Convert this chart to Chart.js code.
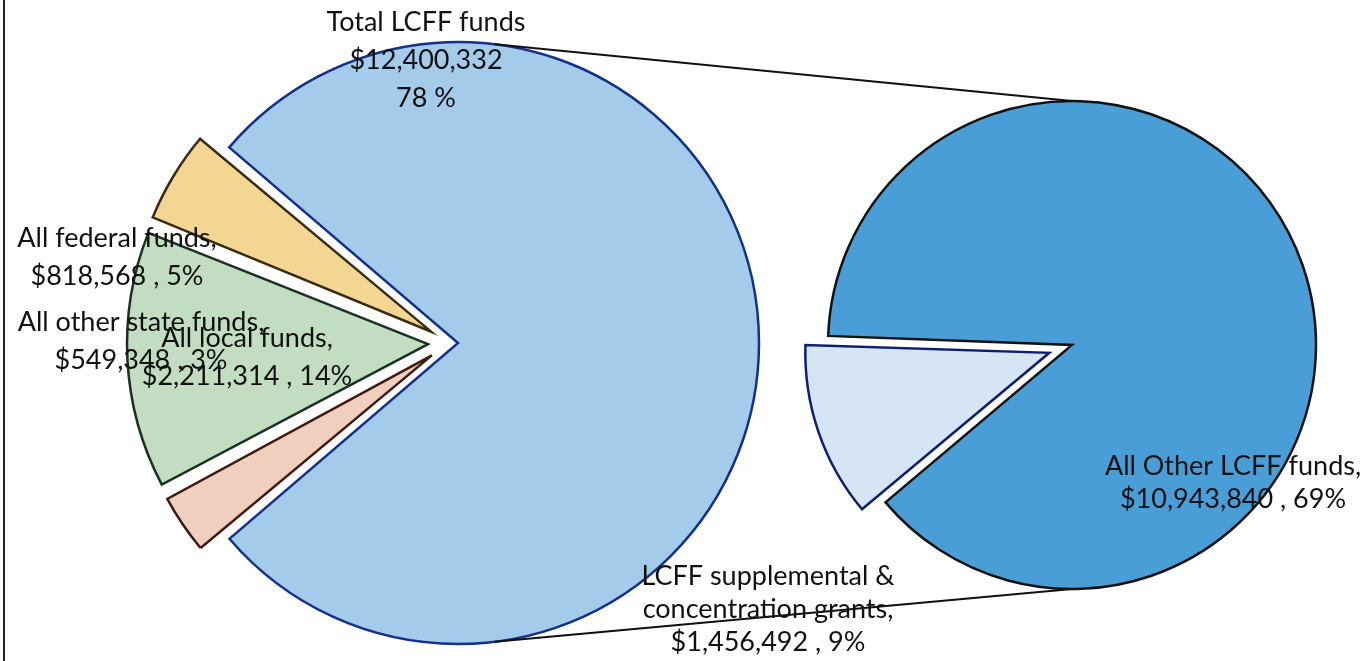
<!DOCTYPE html>
<html>
<head>
<meta charset="utf-8">
<title>LCFF funds</title>
<script src="https://cdn.jsdelivr.net/npm/chart.js@4.4.1/dist/chart.umd.min.js"></script>
<style>
  html, body { margin: 0; padding: 0; background: #fff; }
  #wrap { position: relative; width: 1369px; height: 661px; overflow: hidden; }
  .layer { position: absolute; left: 0; top: 0; width: 1369px; height: 661px; }
  #frame { position: absolute; left: 3px; top: 0; width: 2px; height: 661px; background: #222; }
</style>
</head>
<body>
<div id="wrap">
  <div class="layer"><canvas id="mainPie"></canvas></div>
  <div class="layer"><canvas id="subPie"></canvas></div>
  <div id="frame"></div>
</div>
<script>
// Main pie - all funds
const mainLabels = ['Total LCFF funds', 'All other state funds', 'All local funds', 'All federal funds'];
const mainValues = [12400332, 549348, 2211314, 818568];
const mainPercents = [78, 3, 14, 5];

// Second pie - breakdown of the LCFF slice
const subLabels = ['LCFF supplemental &\nconcentration grants', 'All Other LCFF funds'];
const subValues = [1456492, 10943840];
const subPercents = [9, 69];

// styling
const mainColors = ['#a5cbeb', '#f0cfbf', '#c2ddc2', '#f2d691'];
const mainBorders = ['#13318c', '#40190f', '#1b3220', '#3a2b10'];
const mainOffsets = [32, 88, 88, 88];
const subColors = ['#d5e5f3', '#4a9ed8'];
const subBorders = ['#0c1f73', '#111111'];
const subOffsets = [96, 0];

const FONT = '27px Lato';

function money(v) {
    return '$' + v.toLocaleString('en-US');
}

function labelLines(name, value, pct, isTotal) {
    if (isTotal) {
        return [name, money(value), pct + ' %'];
    }
    const lines = name.split('\n');
    lines[lines.length - 1] += ',';
    lines.push(money(value) + ' , ' + pct + '%');
    return lines;
}

// label anchors, relative to each pie centre
const mainLabelPos = [[-24, -321], [-309, -21], [-203, -5], [-333, -105]];
const subLabelPos = [[-304, 231], [161, 121]];

// exploded slices keep the same radius as the rest of the pie
const keepRadius = {
    id: 'keepRadius',
    afterDatasetUpdate(chart, args) {
        const offsets = chart.data.datasets[args.index].offset;
        args.meta.data.forEach((arc, i) => {
            const o = (offsets[i] || 0) / 4;
            const fix = 1 - Math.sin(Math.min(Math.PI, arc.circumference));
            arc.outerRadius -= o * fix;
        });
    }
};

function makeLabelPlugin(names, values, pcts, positions, lineHeight) {
    return {
        id: 'sliceLabels',
        afterDraw(chart) {
            const ctx = chart.ctx;
            const arcs = chart.getDatasetMeta(0).data;
            ctx.save();
            ctx.font = FONT;
            ctx.fillStyle = '#111';
            ctx.textAlign = 'center';
            ctx.textBaseline = 'middle';
            arcs.forEach((arc, i) => {
                const lines = labelLines(names[i], values[i], pcts[i], chart.canvas.id === 'mainPie' && i === 0);
                const x = arc.x + positions[i][0];
                let y = arc.y + positions[i][1];
                lines.forEach(line => {
                    ctx.fillText(line, x, y);
                    y += lineHeight;
                });
            });
            ctx.restore();
        }
    };
}

const mainChart = new Chart(document.getElementById('mainPie'), {
    type: 'pie',
    data: {
        labels: mainLabels,
        datasets: [{
            data: mainValues,
            backgroundColor: mainColors,
            borderColor: mainBorders,
            borderWidth: 2.5,
            borderJoinStyle: 'miter',
            offset: mainOffsets,
            clip: false
        }]
    },
    options: {
        responsive: true,
        maintainAspectRatio: false,
        animation: false,
        events: [],
        rotation: -49.7,
        radius: 301,
        layout: { padding: { left: 0, right: 469, top: 25, bottom: 0 } },
        plugins: { legend: { display: false }, tooltip: { enabled: false } }
    },
    plugins: [keepRadius, makeLabelPlugin(mainLabels, mainValues, mainPercents, mainLabelPos, 38)]
});

// series lines between the LCFF slice and the second pie
const connectors = {
    id: 'connectors',
    afterDraw(chart) {
        const meta = mainChart.getDatasetMeta(0);
        const big = meta.data[0];
        const mid = (big.startAngle + big.endAngle) / 2;
        const bx = big.x + Math.cos(mid) * mainOffsets[0] / 4;
        const by = big.y + Math.sin(mid) * mainOffsets[0] / 4;
        const r1 = meta.controller.outerRadius;
        const other = chart.getDatasetMeta(0).data[1];
        const tilt = 7 * Math.PI / 180;
        const ctx = chart.ctx;
        ctx.save();
        ctx.strokeStyle = '#111';
        ctx.lineWidth = 2;
        ctx.beginPath();
        ctx.moveTo(bx + r1 * Math.sin(tilt), by - r1 * Math.cos(tilt));
        ctx.lineTo(other.x, other.y - other.outerRadius);
        ctx.moveTo(bx + r1 * Math.sin(tilt), by + r1 * Math.cos(tilt));
        ctx.lineTo(other.x, other.y + other.outerRadius);
        ctx.stroke();
        ctx.restore();
    }
};

const subChart = new Chart(document.getElementById('subPie'), {
    type: 'pie',
    data: {
        labels: subLabels,
        datasets: [{
            data: subValues,
            backgroundColor: subColors,
            borderColor: subBorders,
            borderWidth: 2.5,
            borderJoinStyle: 'miter',
            offset: subOffsets,
            clip: false
        }]
    },
    options: {
        responsive: true,
        maintainAspectRatio: false,
        animation: false,
        events: [],
        rotation: 229.85,
        radius: 244,
        layout: { padding: { left: 775, right: 0, top: 29, bottom: 0 } },
        plugins: { legend: { display: false }, tooltip: { enabled: false } }
    },
    plugins: [keepRadius, connectors, makeLabelPlugin(subLabels, subValues, subPercents, subLabelPos, 33)]
});
</script>
</body>
</html>
